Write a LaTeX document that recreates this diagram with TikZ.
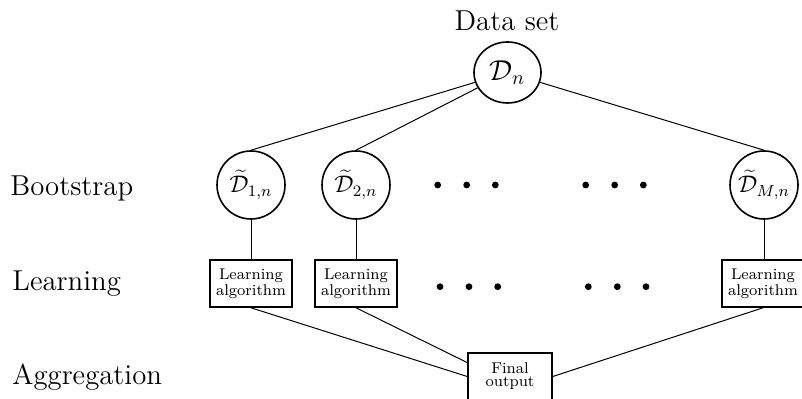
\documentclass[tikz,border=0pt]{standalone}
\usetikzlibrary{shapes.geometric}
\begin{document}
\begin{tikzpicture}[x=0.5pt,y=-0.5pt,
  topc/.style={ellipse,draw,line width=0.8pt,minimum width=33.5pt,minimum height=30.5pt,inner sep=0pt,font=\Large},
  bootc/.style={circle,draw,line width=0.8pt,minimum size=34pt,inner sep=0pt,font=\large},
  algbox/.style={rectangle,draw,line width=0.8pt,minimum width=41pt,minimum height=23.5pt,inner sep=0pt,align=center,font=\fontsize{7.8}{6.4}\selectfont},
  rowlabel/.style={anchor=base west,font=\Large,inner sep=0pt},
  conn/.style={line width=0.5pt},
  dotc/.style={circle,fill,inner sep=0pt,minimum size=3.4pt}]
\useasboundingbox (0,0) rectangle (802,399);

% top data set
\node[anchor=base,font=\Large,inner sep=0pt] (dstitle) at (507,31) {Data set};
\node[topc] (Dn) at (507.5,72.5) {$\mathcal{D}_n$};

% bootstrap samples
\node[bootc] (b1) at (251,185) {$\widetilde{\mathcal{D}}_{1,n}$};
\node[bootc] (b2) at (356,185) {$\widetilde{\mathcal{D}}_{2,n}$};
\node[bootc] (bM) at (764,185) {$\widetilde{\mathcal{D}}_{M,n}$};

% learning algorithms
\node[algbox] (l1) at (251,283.5) {Learning\\algorithm};
\node[algbox] (l2) at (356,283.5) {Learning\\algorithm};
\node[algbox] (lM) at (763,283.5) {Learning\\algorithm};

% final output
\node[algbox,minimum width=42pt] (final) at (510,376.5) {Final\\output};

% row labels
\node[rowlabel] (lbboot) at (10,196) {Bootstrap};
\node[rowlabel] (lblearn) at (12,291) {Learning};
\node[rowlabel] (lbagg) at (12,385) {Aggregation};

% dots
\node[dotc] (d1) at (437.7,185) {};
\node[dotc] (d2) at (466.7,185) {};
\node[dotc] (d3) at (495.3,185) {};
\node[dotc] (d4) at (585.7,185) {};
\node[dotc] (d5) at (614.7,185) {};
\node[dotc] (d6) at (643.3,185) {};
\node[dotc] (d7) at (440,286.7) {};
\node[dotc] (d8) at (469,286.7) {};
\node[dotc] (d9) at (497.7,286.7) {};
\node[dotc] (d10) at (588.3,286.7) {};
\node[dotc] (d11) at (617.3,286.7) {};
\node[dotc] (d12) at (646,286.7) {};

% connectors
\draw[conn] (Dn) -- (b1.north);
\draw[conn] (Dn) -- (b2.north);
\draw[conn] (Dn) -- (bM.north);
\draw[conn] (b1) -- (l1);
\draw[conn] (b2) -- (l2);
\draw[conn] (bM.south) -- (bM.south |- lM.north);
\draw[conn] (l1.south) -- (final.west);
\draw[conn] (l2.south) -- (final.162);
\draw[conn] (lM.south) -- (final.east);
\end{tikzpicture}
\end{document}
